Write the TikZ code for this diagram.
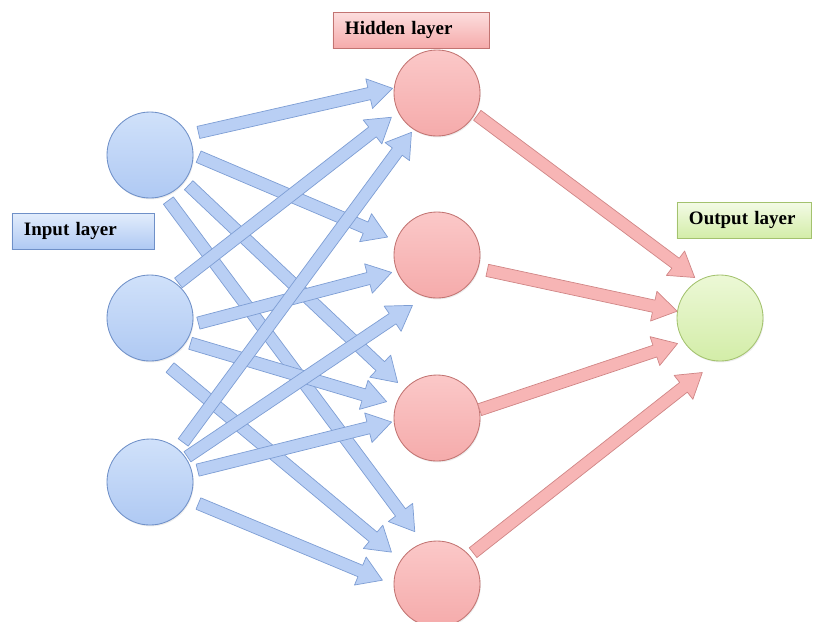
\documentclass[tikz,border=0pt]{standalone}
\usepackage{fontspec}
\setmainfont{Liberation Serif}
\usetikzlibrary{calc,shadows}

% colours
\definecolor{intop}{HTML}{D0E1FA}
\definecolor{inbottom}{HTML}{AFC9F3}
\definecolor{inline}{HTML}{6F90C8}
\definecolor{inarrowfill}{HTML}{B9CFF4}
\definecolor{inarrowline}{HTML}{7E9ED4}
\definecolor{hidtop}{HTML}{FBC8C8}
\definecolor{hidbottom}{HTML}{F5ABAB}
\definecolor{hidline}{HTML}{C27472}
\definecolor{hidarrowfill}{HTML}{F7B5B5}
\definecolor{hidarrowline}{HTML}{D08686}
\definecolor{outtop}{HTML}{ECF8D6}
\definecolor{outbottom}{HTML}{D3EDA8}
\definecolor{outline}{HTML}{A3C26E}

\tikzset{
  neuron/.style={circle, minimum size=2.15cm, line width=0.6pt,
    drop shadow={opacity=0.15, shadow xshift=0.6pt, shadow yshift=-1pt}},
  inneuron/.style={neuron, draw=inline, top color=intop, bottom color=inbottom},
  hidneuron/.style={neuron, draw=hidline, top color=hidtop, bottom color=hidbottom},
  outneuron/.style={neuron, draw=outline, top color=outtop, bottom color=outbottom},
  layerbox/.style={rectangle, minimum height=0.9cm, inner xsep=0.3cm,
    text width=#1, align=left, line width=0.6pt,
    font=\fontsize{13.5}{16}\selectfont\bfseries,
    drop shadow={opacity=0.25, shadow xshift=0.8pt, shadow yshift=-1pt}},
  inarrow/.style={fill=inarrowfill, draw=inarrowline, line width=0.5pt, line join=round},
  hidarrow/.style={fill=hidarrowfill, draw=hidarrowline, line width=0.5pt, line join=round}
}

% block arrow: style, source, angle, ratio, target, angle, ratio
\newcommand{\blockarrow}[7]{%
  \coordinate (bs) at ($(#2)!#4!(#2.#3)$);
  \coordinate (bt) at ($(#5)!#7!(#5.#6)$);
  \coordinate (bh) at ($(bt)!17pt!(bs)$);
  \filldraw[#1] ($(bs)!4.4pt!90:(bt)$) -- ($(bh)!4.4pt!90:(bt)$)
    -- ($(bh)!10.8pt!90:(bt)$) -- (bt) -- ($(bh)!10.8pt!-90:(bt)$)
    -- ($(bh)!4.4pt!-90:(bt)$) -- ($(bs)!4.4pt!-90:(bt)$) -- cycle;
}

\begin{document}
\begin{tikzpicture}[x=0.025cm, y=-0.025cm]
  \useasboundingbox (0,0) rectangle (821,621);
  \clip (0,0) rectangle (821,621);

  % layer labels
  \node[layerbox=2.95cm, draw=inline, top color=intop!60!white, bottom color=inbottom] (inlabel) at (83,231) {Input layer};
  \node[layerbox=3.3cm, draw=hidline, top color=hidtop!60!white, bottom color=hidbottom] (hidlabel) at (411,30) {Hidden layer};
  \node[layerbox=2.75cm, draw=outline, top color=outtop!60!white, bottom color=outbottom] (outlabel) at (744,220) {Output layer};

  % neurons
  \node[inneuron] (i1) at (150,155) {};
  \node[inneuron] (i2) at (150,318) {};
  \node[inneuron] (i3) at (150,482) {};
  \node[hidneuron] (h1) at (437,93) {};
  \node[hidneuron] (h2) at (437,255) {};
  \node[hidneuron] (h3) at (437,418) {};
  \node[hidneuron] (h4) at (437,584) {};
  \node[outneuron] (o1) at (720,318) {};

  % input -> hidden
  \blockarrow{inarrow}{i1}{25}{1.23}{h1}{174}{1.03}
  \blockarrow{inarrow}{i1}{-2}{1.12}{h2}{160}{1.21}
  \blockarrow{inarrow}{i1}{-38}{1.13}{h3}{138}{1.22}
  \blockarrow{inarrow}{i1}{-68}{1.13}{h4}{113}{1.31}
  \blockarrow{inarrow}{i2}{51}{1.04}{h1}{208}{1.19}
  \blockarrow{inarrow}{i2}{-6}{1.12}{h2}{201}{1.12}
  \blockarrow{inarrow}{i2}{-32}{1.10}{h3}{162}{1.22}
  \blockarrow{inarrow}{i2}{-68}{1.23}{h4}{145}{1.28}
  \blockarrow{inarrow}{i3}{50}{1.19}{h1}{237}{1.08}
  \blockarrow{inarrow}{i3}{34}{1.04}{h2}{244}{1.29}
  \blockarrow{inarrow}{i3}{14}{1.13}{h3}{185}{1.05}
  \blockarrow{inarrow}{i3}{-24}{1.22}{h4}{176}{1.26}

  % hidden -> output
  \blockarrow{hidarrow}{h1}{-29}{1.06}{o1}{122}{1.10}
  \blockarrow{hidarrow}{h2}{-17}{1.21}{o1}{171}{1.00}
  \blockarrow{hidarrow}{h3}{11}{1.00}{o1}{211}{1.14}
  \blockarrow{hidarrow}{h4}{41}{1.10}{o1}{252}{1.32}
\end{tikzpicture}
\end{document}
